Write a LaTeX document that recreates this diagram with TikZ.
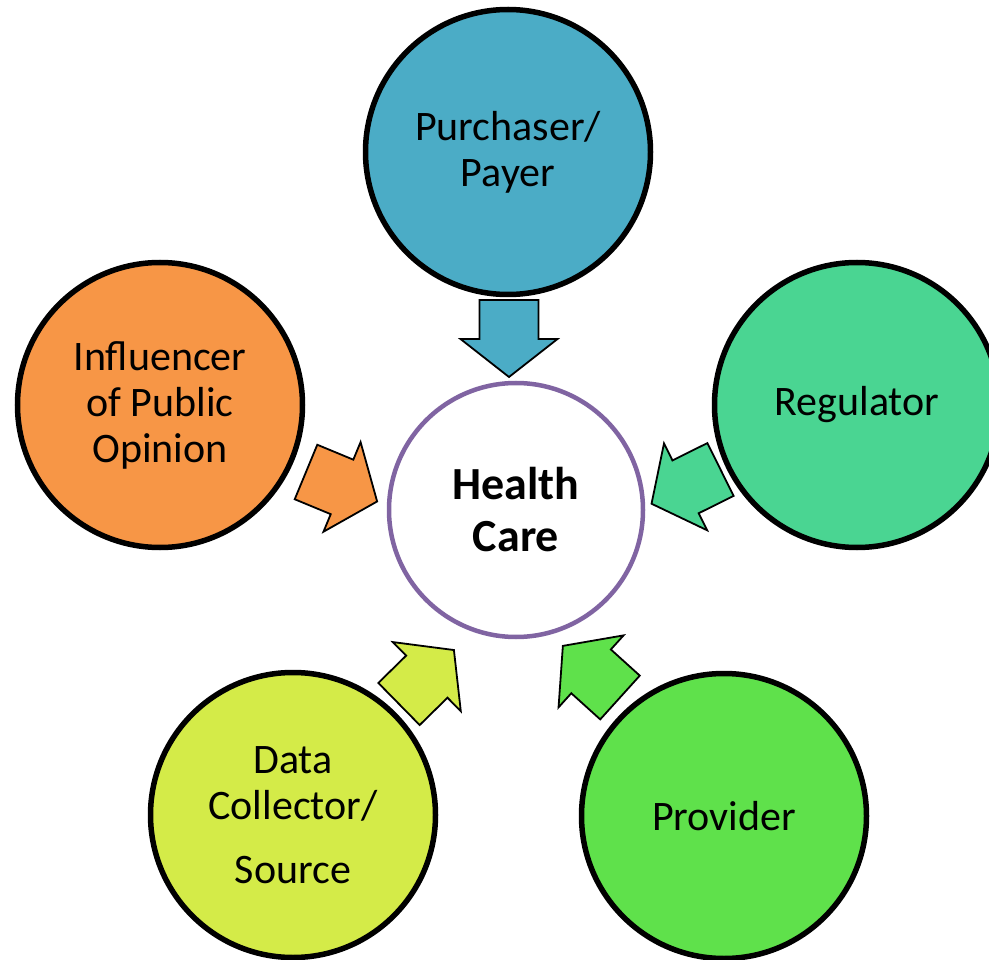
\documentclass[tikz,border=0pt]{standalone}
\usepackage{fontspec}
\setmainfont{Carlito}
\usepackage{tikz}

\definecolor{payer}{HTML}{4BACC6}
\definecolor{regulator}{HTML}{4AD592}
\definecolor{provider}{HTML}{5FE14B}
\definecolor{collector}{HTML}{D4EB48}
\definecolor{influencer}{HTML}{F79646}
\definecolor{care}{HTML}{8064A2}

\begin{document}
\begin{tikzpicture}[x=1pt, y=-1pt,
  role/.style={circle, draw=black, line width=5.5pt, minimum size=285pt, inner sep=0pt,
    align=center, font=\fontsize{42}{46}\selectfont},
  inarrow/.pic={\draw[pic actions, line width=1.8pt]
    (0,-29.5) -- (39,-29.5) -- (39,-48.5) -- (77,0) -- (39,48.5) -- (39,29.5) -- (0,29.5) -- cycle;}]
\clip (0,0) rectangle (989,960);

\node[role, fill=payer] (payer) at (508,152) {Purchaser/\\Payer};
\node[role, fill=regulator] (regulator) at (857,405) {Regulator};
\node[role, fill=provider] (provider) at (724,816) {Provider};
\node[role, fill=collector] (collector) at (293,815) {Data\\Collector/\\[18pt]Source};
\node[role, fill=influencer] (influencer) at (160,405) {Influencer\\of Public\\Opinion};

\node[circle, draw=care, line width=4.5pt, fill=white, minimum size=254pt, inner sep=0pt,
  align=center, font=\bfseries\fontsize{46}{52}\selectfont] (care) at (516,510) {Health\\Care};

\pic[fill=payer, rotate=-90] at (509,300) {inarrow};
\pic[fill=regulator, rotate=-153.6] at (720.5,469.5) {inarrow};
\pic[fill=provider, rotate=137.9] at (620,697.5) {inarrow};
\pic[fill=collector, rotate=44.5] at (399,704) {inarrow};
\pic[fill=influencer, rotate=-22.5] at (306,472) {inarrow};
\end{tikzpicture}
\end{document}
